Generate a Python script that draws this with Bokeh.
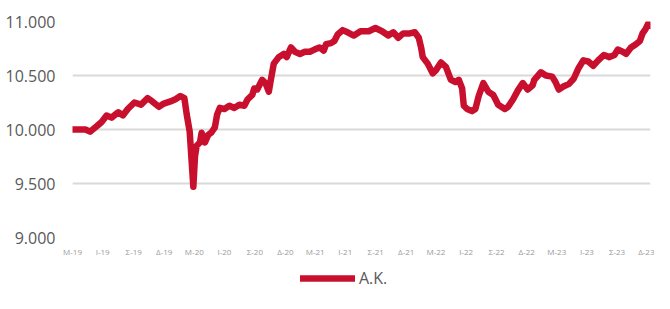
import pandas as pd
from bokeh.plotting import figure
from bokeh.layouts import column
from bokeh.models import Range1d, FixedTicker, Legend, LegendItem
from bokeh.embed import file_html
from bokeh.resources import INLINE

# ---- data ----
dates = [
    "2019-03-29", "2019-05-07", "2019-05-21", "2019-06-10", "2019-06-25", "2019-07-10",
    "2019-07-25", "2019-08-14", "2019-08-28", "2019-09-12", "2019-10-02", "2019-10-22",
    "2019-11-11", "2019-11-25", "2019-12-15", "2019-12-30", "2020-01-19", "2020-02-03",
    "2020-02-18", "2020-03-01", "2020-03-08", "2020-03-17", "2020-03-23", "2020-03-28",
    "2020-04-02", "2020-04-07", "2020-04-17", "2020-04-22", "2020-05-02", "2020-05-12",
    "2020-05-21", "2020-06-01", "2020-06-08", "2020-06-16", "2020-06-30", "2020-07-15",
    "2020-07-30", "2020-08-14", "2020-08-29", "2020-09-08", "2020-09-22", "2020-09-28",
    "2020-10-07", "2020-10-22", "2020-11-01", "2020-11-11", "2020-11-16", "2020-11-26",
    "2020-12-11", "2020-12-26", "2021-01-04", "2021-01-17", "2021-01-29", "2021-02-13",
    "2021-02-28", "2021-03-15", "2021-03-29", "2021-04-13", "2021-04-26", "2021-05-03",
    "2021-05-18", "2021-05-28", "2021-06-07", "2021-06-22", "2021-07-07", "2021-07-26",
    "2021-08-15", "2021-09-09", "2021-09-29", "2021-10-19", "2021-11-07", "2021-11-22",
    "2021-12-07", "2021-12-22", "2022-01-11", "2022-01-26", "2022-02-07", "2022-02-14",
    "2022-02-19", "2022-03-06", "2022-03-21", "2022-03-31", "2022-04-15", "2022-04-30",
    "2022-05-15", "2022-05-29", "2022-06-08", "2022-06-18", "2022-06-23", "2022-07-03",
    "2022-07-18", "2022-07-28", "2022-08-07", "2022-08-21", "2022-09-05", "2022-09-20",
    "2022-10-05", "2022-10-25", "2022-11-04", "2022-11-19", "2022-12-03", "2022-12-18",
    "2023-01-02", "2023-01-17", "2023-01-22", "2023-02-11", "2023-02-26", "2023-03-17",
    "2023-03-27", "2023-04-06", "2023-04-21", "2023-05-06", "2023-05-21", "2023-06-05",
    "2023-06-19", "2023-07-04", "2023-07-19", "2023-08-03", "2023-08-20", "2023-09-06",
    "2023-09-21", "2023-10-01", "2023-10-16", "2023-10-26", "2023-11-10", "2023-11-25",
    "2023-12-07", "2023-12-15", "2023-12-24", "2024-01-01", "2024-01-08",
]
values = [
    10.00, 10.00, 9.98, 10.03, 10.07, 10.13,
    10.11, 10.16, 10.13, 10.19, 10.25, 10.23,
    10.29, 10.26, 10.21, 10.24, 10.26, 10.28,
    10.31, 10.29, 10.14, 9.98, 9.70, 9.47,
    9.75, 9.85, 9.88, 9.97, 9.88, 9.95,
    9.97, 10.02, 10.14, 10.20, 10.19, 10.22,
    10.20, 10.23, 10.22, 10.28, 10.32, 10.38,
    10.37, 10.46, 10.43, 10.35, 10.44, 10.61,
    10.67, 10.70, 10.67, 10.76, 10.72, 10.70,
    10.72, 10.72, 10.74, 10.76, 10.73, 10.79,
    10.80, 10.82, 10.88, 10.92, 10.90, 10.87,
    10.91, 10.91, 10.94, 10.91, 10.87, 10.90,
    10.85, 10.89, 10.89, 10.90, 10.85, 10.76,
    10.67, 10.61, 10.52, 10.55, 10.62, 10.58,
    10.46, 10.44, 10.46, 10.38, 10.22, 10.19,
    10.17, 10.19, 10.31, 10.43, 10.35, 10.32,
    10.23, 10.19, 10.21, 10.28, 10.36, 10.43,
    10.37, 10.41, 10.46, 10.53, 10.50, 10.49,
    10.44, 10.37, 10.40, 10.42, 10.47, 10.57,
    10.64, 10.63, 10.59, 10.64, 10.69, 10.67,
    10.69, 10.74, 10.72, 10.70, 10.76, 10.79,
    10.82, 10.89, 10.93, 10.98, 10.96,
]
series_name = "Α.Κ."

x_tick_dates = [
    "2019-03-29", "2019-06-28", "2019-09-30", "2019-12-31",
    "2020-03-31", "2020-06-30", "2020-09-30", "2020-12-31",
    "2021-03-31", "2021-06-30", "2021-09-30", "2021-12-31",
    "2022-03-31", "2022-06-30", "2022-09-30", "2022-12-30",
    "2023-03-31", "2023-06-30", "2023-09-29", "2023-12-29",
]
x_tick_labels = [
    "Μ-19", "Ι-19", "Σ-19", "Δ-19",
    "Μ-20", "Ι-20", "Σ-20", "Δ-20",
    "Μ-21", "Ι-21", "Σ-21", "Δ-21",
    "Μ-22", "Ι-22", "Σ-22", "Δ-22",
    "Μ-23", "Ι-23", "Σ-23", "Δ-23",
]
y_ticks = [9.0, 9.5, 10.0, 10.5, 11.0]
y_tick_labels = ["9.000", "9.500", "10.000", "10.500", "11.000"]

# ---- build ----
x = pd.to_datetime(dates)
FONT = "Open Sans"
RED = "#C8102E"
LINE_W = 6.5

p = figure(width=654, height=259, x_axis_type="datetime",
           output_backend="svg", toolbar_location=None,
           x_range=Range1d(x[0], x[-1]), y_range=Range1d(9.0, 11.0),
           min_border_left=72, min_border_right=4, min_border_top=21,
           min_border_bottom=19)
p.outline_line_color = None
p.background_fill_color = "white"
p.border_fill_color = "white"

r = p.line(x, values, line_width=LINE_W, color=RED,
           line_join="round", line_cap="round")

tick_ms = [float(pd.Timestamp(d).value // 10**6) for d in x_tick_dates]
p.xaxis.ticker = FixedTicker(ticks=tick_ms)
p.xaxis.major_label_overrides = dict(zip(tick_ms, x_tick_labels))
p.yaxis.ticker = FixedTicker(ticks=y_ticks)
p.yaxis.major_label_overrides = dict(zip(y_ticks, y_tick_labels))

for ax in (p.xaxis[0], p.yaxis[0]):
    ax.axis_line_color = None
    ax.major_tick_line_color = None
    ax.minor_tick_line_color = None
    ax.major_label_text_font = FONT

p.yaxis.major_label_text_font_size = "16px"
p.yaxis.major_label_text_color = "#595959"
p.yaxis.major_tick_out = 4
p.yaxis.major_label_standoff = 13
p.xaxis.major_label_text_font_size = "8px"
p.xaxis.major_label_text_color = "#9a9a9a"
p.xaxis.major_tick_out = 2
p.xaxis.major_label_standoff = 6

p.xgrid.grid_line_color = None
p.ygrid.grid_line_color = "#d9d9d9"
p.ygrid.grid_line_width = 2

# legend strip below the chart (its frame is aligned with the chart's frame)
q = figure(width=654, height=34, output_backend="svg", toolbar_location=None,
           x_axis_type=None, y_axis_type=None,
           min_border_left=0, min_border_right=0, min_border_top=0,
           min_border_bottom=0)
q.outline_line_color = None
q.xgrid.grid_line_color = None
q.ygrid.grid_line_color = None
# a one-point line (draws nothing itself) that carries the legend key style
key = q.line(x[:1], values[:1], line_width=LINE_W, color=RED, line_cap="round")

legend = Legend(items=[LegendItem(label=series_name, renderers=[key])],
                location=(228, 4), orientation="horizontal",
                glyph_width=55, glyph_height=20, label_standoff=4,
                label_text_font=FONT, label_text_font_size="16px",
                label_text_color="#595959", border_line_color=None,
                background_fill_alpha=0, padding=0, margin=0, spacing=0)
q.add_layout(legend, "center")

layout = column(p, q, spacing=0)
open("out.html", "w").write(file_html(layout, INLINE))
